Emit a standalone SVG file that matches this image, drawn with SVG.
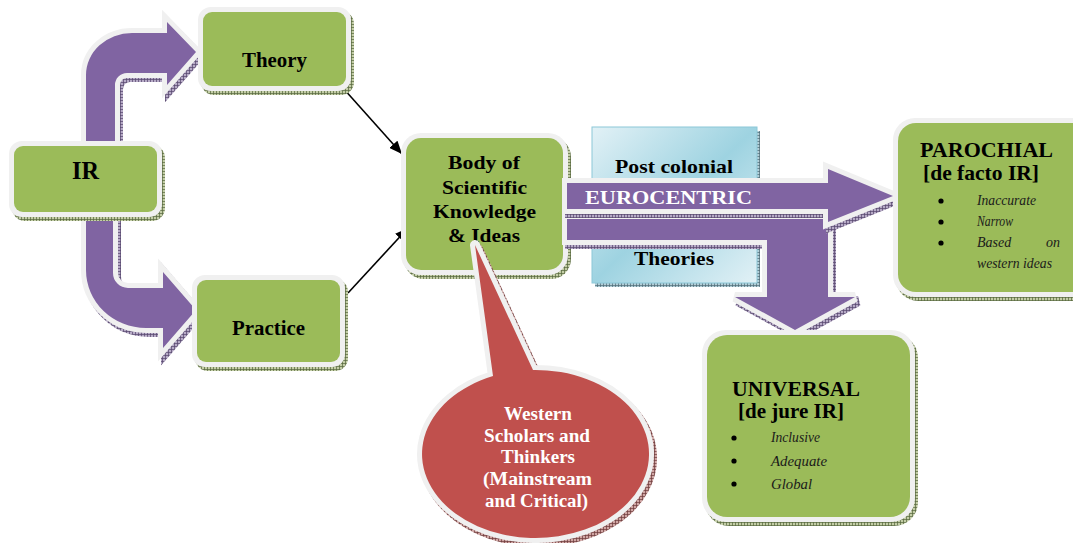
<svg xmlns="http://www.w3.org/2000/svg" width="1073" height="543" viewBox="0 0 1073 543">
<style>
.bd{fill:#f0f0f0}
.gr{fill:#9bbb59}
.sg{fill:url(#hg)}
.t{font-family:'Liberation Serif','Times New Roman','DejaVu Serif',serif;font-weight:bold;fill:#000}
.it{font-family:'Liberation Serif','Times New Roman','DejaVu Serif',serif;font-style:italic;font-size:14px;fill:#1a1a1a}
.wt{font-family:'Liberation Serif','Times New Roman','DejaVu Serif',serif;font-weight:bold;fill:#fff}
.arr{fill:#8064a2;stroke:#f0f0f0;stroke-width:10;paint-order:stroke;stroke-linejoin:miter}
.arrs{fill:url(#hp);stroke:url(#hp);stroke-width:10}
.con{stroke:#000;stroke-width:1.6;fill:none;marker-end:url(#ah)}
</style>
<defs>
<pattern id="hg" width="3" height="3" patternUnits="userSpaceOnUse"><rect width="3" height="3" fill="#c3cda6"/><path d="M0 .5H3M.5 0V3" stroke="#55653c" stroke-width=".7"/></pattern>
<pattern id="hp" width="3" height="3" patternUnits="userSpaceOnUse"><rect width="3" height="3" fill="#b6aac6"/><path d="M0 .5H3M.5 0V3" stroke="#54456b" stroke-width=".7"/></pattern>
<pattern id="hr" width="3" height="3" patternUnits="userSpaceOnUse"><rect width="3" height="3" fill="#d0a6a4"/><path d="M0 .5H3M.5 0V3" stroke="#6b3a3a" stroke-width=".7"/></pattern>
<pattern id="hb" width="3" height="3" patternUnits="userSpaceOnUse"><rect width="3" height="3" fill="#b4cfd8"/><path d="M0 .5H3M.5 0V3" stroke="#4d6a75" stroke-width=".7"/></pattern>
<linearGradient id="blue" x1="0" y1="0" x2="1" y2="1">
<stop offset="0" stop-color="#e2f1f6"/><stop offset="0.5" stop-color="#9ed3e1"/><stop offset="1" stop-color="#e2f1f6"/>
</linearGradient>
<marker id="ah" markerWidth="13" markerHeight="11" refX="13" refY="5.5" orient="auto" markerUnits="userSpaceOnUse"><path d="M0 0L13 5.5L0 11Z" fill="#000"/></marker>
</defs>
<rect width="1073" height="543" fill="#fff"/>

<g id="postcolonial">
<rect x="595" y="131" width="165" height="156" fill="url(#hb)"/>
<rect x="592" y="127" width="165" height="156" fill="url(#blue)" stroke="#8cc8d8" stroke-width="1"/>
<text class="t" x="615" y="173" font-size="19" textLength="118" lengthAdjust="spacingAndGlyphs">Post colonial</text>
<text class="t" x="634" y="265" font-size="19" textLength="80" lengthAdjust="spacingAndGlyphs">Theories</text>
</g>

<g id="curved-arrows">
<path class="arrs" transform="translate(3,4)" d="M86 150V75A46 42 0 0 1 132 33H167V22L196 52L167 85V73H127A12 12 0 0 0 115 85V150Z"/>
<path class="arr" d="M86 150V75A46 42 0 0 1 132 33H167V22L196 52L167 85V73H127A12 12 0 0 0 115 85V150Z"/>
<path class="arrs" transform="translate(3,4)" d="M86 210V270A60 58 0 0 0 146 328H163V348L196 310L163 272V288H128A15 15 0 0 1 113 273V210Z"/>
<path class="arr" d="M86 210V270A60 58 0 0 0 146 328H163V348L196 310L163 272V288H128A15 15 0 0 1 113 273V210Z"/>
</g>

<g id="connectors">
<line class="con" x1="343" y1="88" x2="402" y2="154"/>
<line class="con" x1="348" y1="293" x2="408" y2="228"/>
</g>

<g id="ir">
<rect class="sg" x="12" y="145" width="153" height="76" rx="13"/>
<rect class="bd" x="9" y="141" width="153" height="76" rx="13"/>
<rect class="gr" x="14" y="146" width="143" height="66" rx="9"/>
<text class="t" x="72" y="179" font-size="26" textLength="27" lengthAdjust="spacingAndGlyphs">IR</text>
</g>

<g id="theory">
<rect class="sg" x="201" y="11" width="153" height="84" rx="13"/>
<rect class="bd" x="198" y="7" width="153" height="84" rx="13"/>
<rect class="gr" x="203" y="12" width="143" height="74" rx="9"/>
<text class="t" x="242" y="67" font-size="20" textLength="65" lengthAdjust="spacingAndGlyphs">Theory</text>
</g>

<g id="practice">
<rect class="sg" x="195" y="279" width="153" height="92" rx="13"/>
<rect class="bd" x="192" y="275" width="153" height="92" rx="13"/>
<rect class="gr" x="197" y="280" width="143" height="82" rx="9"/>
<text class="t" x="232" y="335" font-size="20" textLength="73" lengthAdjust="spacingAndGlyphs">Practice</text>
</g>

<g id="body">
<rect class="sg" x="404" y="137" width="167" height="142" rx="20"/>
<rect class="bd" x="401" y="133" width="167" height="142" rx="20"/>
<rect class="gr" x="406" y="138" width="157" height="132" rx="15"/>
<text class="t" font-size="19">
<tspan x="448" y="169" textLength="72" lengthAdjust="spacingAndGlyphs">Body of</tspan>
<tspan x="442" y="194" textLength="85" lengthAdjust="spacingAndGlyphs">Scientific</tspan>
<tspan x="433" y="218" textLength="103" lengthAdjust="spacingAndGlyphs">Knowledge</tspan>
<tspan x="448" y="242" textLength="72" lengthAdjust="spacingAndGlyphs">&amp; Ideas</tspan>
</text>
</g>

<g id="eurocentric-arrows">
<path class="arrs" transform="translate(3,4)" d="M567 219H828V297H855L795 330L735 297H767V240H567Z"/>
<path class="arr" d="M567 219H828V297H855L795 330L735 297H767V240H567Z"/>
<path class="arrs" transform="translate(3,4)" d="M567 183H828V169L893 196L828 222V209H567Z"/>
<path class="arr" d="M567 183H828V169L893 196L828 222V209H567Z"/>
<text class="wt" x="585" y="204" font-size="19" textLength="167" lengthAdjust="spacingAndGlyphs">EUROCENTRIC</text>
</g>

<g id="parochial">
<rect class="sg" x="896" y="122" width="200" height="179" rx="22"/>
<rect class="bd" x="893" y="118" width="200" height="179" rx="22"/>
<rect class="gr" x="898" y="123" width="200" height="169" rx="18"/>
<text class="t" x="920" y="157" font-size="21" textLength="133" lengthAdjust="spacingAndGlyphs">PAROCHIAL</text>
<text class="t" x="923" y="180" font-size="21" textLength="116" lengthAdjust="spacingAndGlyphs">[de facto IR]</text>
<circle cx="941" cy="201" r="2.6"/>
<circle cx="941" cy="222" r="2.6"/>
<circle cx="941" cy="243" r="2.6"/>
<text class="it" x="977" y="205" textLength="59" lengthAdjust="spacingAndGlyphs">Inaccurate</text>
<text class="it" x="977" y="226" textLength="36" lengthAdjust="spacingAndGlyphs">Narrow</text>
<text class="it" y="247"><tspan x="977">Based</tspan><tspan x="1046">on</tspan></text>
<text class="it" x="977" y="268" textLength="75" lengthAdjust="spacingAndGlyphs">western ideas</text>
</g>

<g id="universal">
<rect class="sg" x="705" y="334" width="213" height="192" rx="24"/>
<rect class="bd" x="702" y="330" width="213" height="192" rx="24"/>
<rect class="gr" x="707" y="335" width="203" height="182" rx="20"/>
<text class="t" x="732" y="396" font-size="21" textLength="128" lengthAdjust="spacingAndGlyphs">UNIVERSAL</text>
<text class="t" x="738" y="418" font-size="21" textLength="106" lengthAdjust="spacingAndGlyphs">[de jure IR]</text>
<circle cx="734" cy="438" r="2.6"/>
<circle cx="734" cy="461" r="2.6"/>
<circle cx="734" cy="484" r="2.6"/>
<text class="it" x="771" y="442" textLength="49" lengthAdjust="spacingAndGlyphs">Inclusive</text>
<text class="it" x="771" y="466" textLength="56" lengthAdjust="spacingAndGlyphs">Adequate</text>
<text class="it" x="771" y="489" textLength="41" lengthAdjust="spacingAndGlyphs">Global</text>
</g>

<g id="bubble">
<path transform="translate(3,4)" d="M533 370A113.5 84 0 1 1 493 376.1L475 245Z" fill="url(#hr)" stroke="url(#hr)" stroke-width="10" stroke-linejoin="round"/>
<path d="M533 370A113.5 84 0 1 1 493 376.1L475 245Z" fill="#c0504d" stroke="#f0f0f0" stroke-width="10" stroke-linejoin="round" paint-order="stroke"/>
<text class="wt" font-size="18">
<tspan x="504" y="420" textLength="68" lengthAdjust="spacingAndGlyphs">Western</tspan>
<tspan x="484" y="442" textLength="106" lengthAdjust="spacingAndGlyphs">Scholars and</tspan>
<tspan x="501" y="463" textLength="74" lengthAdjust="spacingAndGlyphs">Thinkers</tspan>
<tspan x="483" y="485" textLength="109" lengthAdjust="spacingAndGlyphs">(Mainstream</tspan>
<tspan x="485" y="507" textLength="103" lengthAdjust="spacingAndGlyphs">and Critical)</tspan>
</text>
</g>
</svg>
